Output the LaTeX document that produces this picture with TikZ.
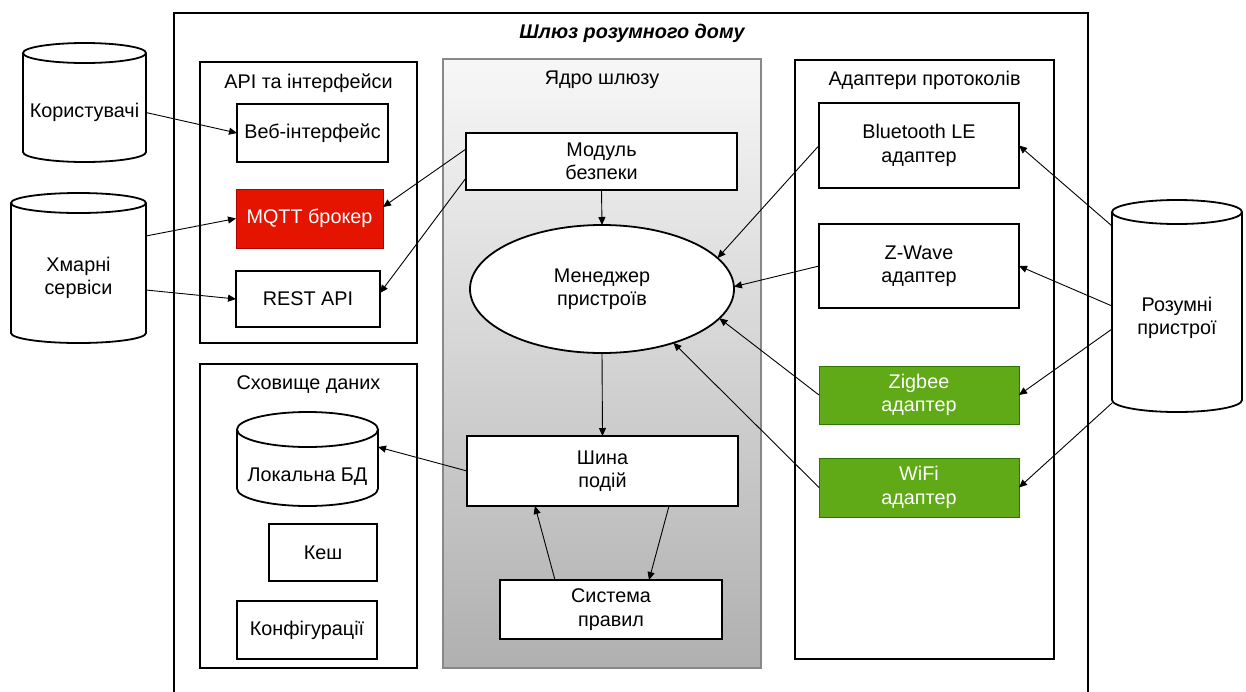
\documentclass[tikz,border=0pt]{standalone}
\usepackage{fontspec}
\setmainfont{Liberation Sans}
\usetikzlibrary{arrows.meta,shapes.geometric}

\definecolor{alarmred}{HTML}{E51400}
\definecolor{alarmredline}{HTML}{B20000}
\definecolor{okgreen}{HTML}{60A917}
\definecolor{okgreenline}{HTML}{2D7600}
\definecolor{coretop}{HTML}{F7F7F7}
\definecolor{corebottom}{HTML}{B0B0B0}
\definecolor{coreline}{HTML}{888888}

% drum (database) outline around a node that covers the drum's body
\newcommand\drawdrum[3]{%
  \draw[drumline] ([yshift=#3]#1.north west) -- ([yshift=#3]#1.south west)
    arc[start angle=180,end angle=360,x radius=#2,y radius=#3]
    -- ([yshift=#3]#1.north east)
    arc[start angle=0,end angle=180,x radius=#2,y radius=#3] -- cycle;
  \draw[drumline] ([yshift=#3]#1.north west)
    arc[start angle=180,end angle=360,x radius=#2,y radius=#3];
}

\begin{document}
\begin{tikzpicture}[x=1pt,y=1pt,
  every node/.style={inner sep=0pt, outer sep=0pt},
  lbl/.style={font=\fontsize{19.8}{23.5}\selectfont, align=center},
  box/.style={lbl, draw, line width=1.8pt, fill=white},
  grp/.style={draw, line width=1.8pt},
  drum/.style={lbl},
  drumline/.style={line width=1.8pt},
  link/.style={line width=0.9pt, -{Triangle[length=8pt,width=7pt]}},
]
\useasboundingbox (0,0) rectangle (1246,-691);

% outer gateway frame
\node[grp, minimum width=914, minimum height=687] (gw) at (631,-356.5) {};
\node[font=\fontsize{19.8}{23}\selectfont\bfseries\itshape] (gwtitle) at (632,-33) {Шлюз розумного дому};

% groups
\node[grp, minimum width=217, minimum height=281] (api) at (308.5,-202.5) {};
\node[lbl] (apititle) at (308.5,-83) {API та інтерфейси};
\node[grp, minimum width=217, minimum height=304] (store) at (308.5,-516) {};
\node[lbl] (storetitle) at (308.5,-385) {Сховище даних};
\node[draw=coreline, line width=1.8pt, top color=coretop, bottom color=corebottom,
      minimum width=318, minimum height=609] (core) at (602,-363.5) {};
\node[lbl] (coretitle) at (602,-80) {Ядро шлюзу};
\node[grp, minimum width=259, minimum height=599] (adapt) at (924.5,-359.5) {};
\node[lbl] (adapttitle) at (924.5,-80) {Адаптери протоколів};

% API and interfaces
\node[box, minimum width=151, minimum height=58] (web) at (312.5,-133) {Веб-інтерфейс};
\node[box, fill=alarmred, draw=alarmredline, line width=0.8pt, text=white,
      minimum width=147, minimum height=59] (mqtt) at (309.5,-218.5) {MQTT брокер};
\node[box, minimum width=144, minimum height=56] (rest) at (308,-299) {REST API};

% data storage
\node[drum, minimum width=141, minimum height=59] (db) at (307.5,-476.5) {Локальна БД};
\drawdrum{db}{70.5}{17.5}
\node[box, minimum width=108, minimum height=57] (cache) at (323,-552.5) {Кеш};
\node[box, minimum width=140, minimum height=58] (conf) at (307,-630) {Конфігурації};

% gateway core
\node[box, minimum width=271, minimum height=57] (sec) at (601.5,-161.5) {Модуль\\безпеки};
\node[box, ellipse, minimum width=264, minimum height=128] (mgr) at (602,-289) {Менеджер\\пристроїв};
\node[box, minimum width=271, minimum height=70] (bus) at (602.5,-471) {Шина\\подій};
\node[box, minimum width=222, minimum height=59] (rules) at (611,-609.5) {Система\\правил};

% protocol adapters
\node[box, minimum width=200, minimum height=85] (ble) at (919,-145.5) {Bluetooth LE\\адаптер};
\node[box, minimum width=200, minimum height=84] (zw) at (919,-266) {Z-Wave\\адаптер};
\node[box, fill=okgreen, draw=okgreenline, line width=0.8pt, text=white,
      minimum width=200, minimum height=58] (zig) at (919,-395) {Zigbee\\адаптер};
\node[box, fill=okgreen, draw=okgreenline, line width=0.8pt, text=white,
      minimum width=200, minimum height=59] (wifi) at (919,-487.5) {WiFi\\адаптер};

% external actors
\node[drum, minimum width=123, minimum height=99] (users) at (84.5,-112.5) {Користувачі};
\drawdrum{users}{61.5}{10}
\node[drum, minimum width=135, minimum height=130] (cloud) at (78.5,-278) {Хмарні\\сервіси};
\drawdrum{cloud}{67.5}{10}
\node[drum, minimum width=130, minimum height=188] (dev) at (1177,-318) {Розумні\\пристрої};
\drawdrum{dev}{65}{12}

% connections
\draw[link] (users.east) -- (web.west);
\draw[link] ([yshift=42]cloud.east) -- (mqtt.west);
\draw[link] ([yshift=-12]cloud.east) -- (rest.west);
\draw[link] ([yshift=12.5]sec.west) -- ([yshift=11.5]mqtt.east);
\draw[link] ([yshift=-16.5]sec.west) -- ([yshift=6]rest.east);
\draw[link] (sec.south) -- (mgr.north);
\draw[link] (ble.west) -- (mgr.15);
\draw[link] (zw.west) -- (mgr.1);
\draw[link] (zig.west) -- (mgr.-14);
\draw[link] (wifi.west) -- (mgr.-37);
\draw[link] (mgr.south) -- (bus.north);
\draw[link] (bus.west) -- (db.north east);
\draw[link] ([xshift=-56]rules.north) -- ([xshift=-67.5]bus.south);
\draw[link] ([xshift=66.5]bus.south) -- ([xshift=38]rules.north);
\draw[link] ([yshift=92]dev.west) -- (ble.east);
\draw[link] ([yshift=12]dev.west) -- (zw.east);
\draw[link] ([yshift=-11]dev.west) -- (zig.east);
\draw[link] ([yshift=-85]dev.west) -- (wifi.east);
\end{tikzpicture}
\end{document}
